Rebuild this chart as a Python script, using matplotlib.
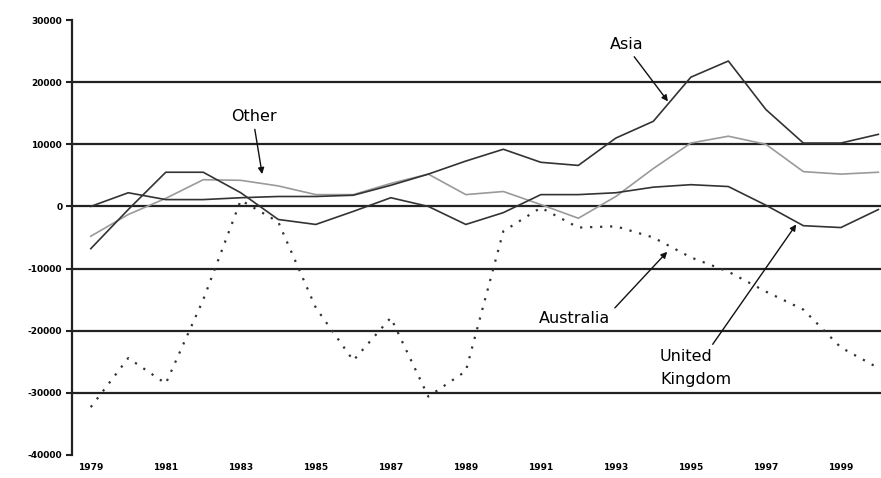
import matplotlib

matplotlib.use("Agg")
import matplotlib.pyplot as plt

years = list(range(1979, 2001))
asia = [0, 2200, 1100, 1100, 1400, 1600, 1600, 1800, 3400, 5200, 7300, 9200,
        7100, 6600, 11000, 13700, 20800, 23400, 15600, 10200, 10200, 11600]
other = [-4800, -1300, 1300, 4300, 4200, 3300, 1900, 1900, 3700, 5200, 1900, 2400,
         300, -1900, 1600, 6100, 10200, 11300, 10000, 5600, 5200, 5500]
uk = [-6800, -500, 5500, 5500, 2200, -2100, -2900, -800, 1400, 0, -2900, -1000,
      1900, 1900, 2200, 3100, 3500, 3200, 200, -3100, -3400, -500]
australia = [-32300, -24400, -28500, -15000, 1000, -2500, -16300, -24800, -17900,
             -30600, -26500, -4000, -200, -3400, -3200, -5000, -8200, -10500,
             -13700, -16600, -22700, -26000]

y_ticks = list(range(-40000, 30001, 10000))
x_ticks = list(range(1979, 2000, 2))

fig = plt.figure(figsize=(8.81, 4.78), dpi=100)
ax = fig.add_axes([72 / 881, 23 / 478, 809 / 881, 435 / 478])

# gridlines, none at the top and bottom limits
for v in y_ticks[1:-1]:
    ax.axhline(v, color="#222222", lw=1.6, zorder=1)

ax.plot(years, other, color="#9a9a9a", lw=1.2, zorder=3)
ax.plot(years, asia, color="#333333", lw=1.2, zorder=3)
ax.plot(years, uk, color="#333333", lw=1.2, zorder=3)
ax.plot(years, australia, color="#333333", lw=1.6, ls=(0, (1, 3.5)), zorder=3)

ax.set_xlim(1978.5, 2000.07)
ax.set_ylim(-40000, 30000)
ax.set_yticks(y_ticks)
ax.set_yticklabels([str(v) for v in y_ticks], fontsize=6.5, fontweight="bold")
ax.set_xticks(x_ticks)
ax.set_xticklabels([str(v) for v in x_ticks], fontsize=6.5, fontweight="bold")
ax.tick_params(axis="y", length=4, width=1.5, color="#222222", pad=3)
ax.tick_params(axis="x", length=0, pad=6)

for side in ["top", "right", "bottom"]:
    ax.spines[side].set_visible(False)
ax.spines["left"].set_linewidth(1.6)
ax.spines["left"].set_color("#222222")


def arrow(rel=(0.5, 0.5)):
    return dict(arrowstyle="-|>", color="#111111", lw=1.0, mutation_scale=9,
                relpos=rel, shrinkA=2, shrinkB=0)


ax.annotate("Other", xy=(1983.57, 5200), xytext=(1983.35, 14500),
            ha="center", va="center", fontsize=11.5, arrowprops=arrow((0.5, 0)))
ax.annotate("Asia", xy=(1994.39, 16900), xytext=(1993.3, 26100),
            ha="center", va="center", fontsize=11.5, arrowprops=arrow((0.6, 0)))
ax.annotate("Australia", xy=(1994.37, -7300), xytext=(1991.9, -18100),
            ha="center", va="center", fontsize=11.5, arrowprops=arrow((1.0, 0.9)))
ax.annotate("United\nKingdom", xy=(1997.81, -2900), xytext=(1994.18, -23000),
            ha="left", va="top", fontsize=11.5, linespacing=1.6,
            arrowprops=arrow((0.69, 1.0)))

fig.savefig("out.png", dpi=100)
